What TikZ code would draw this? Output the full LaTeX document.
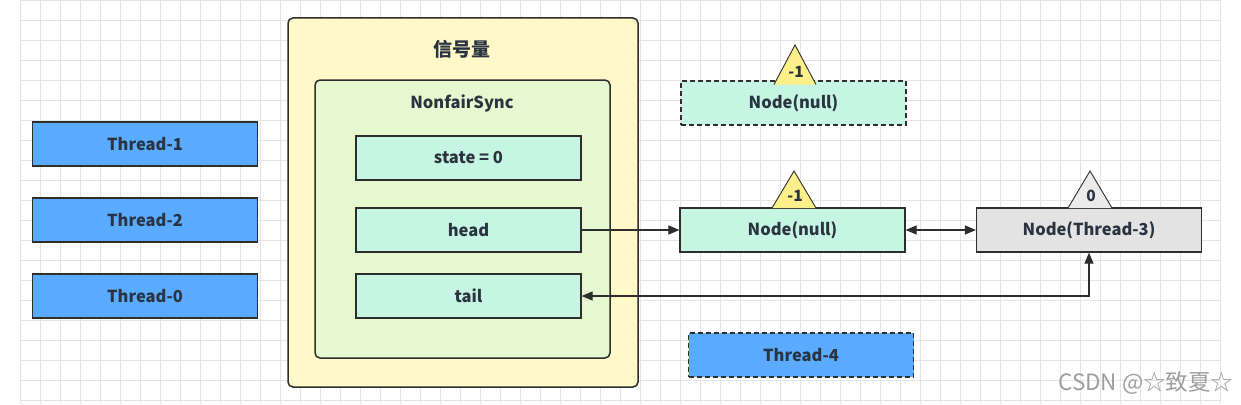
\documentclass[tikz,border=0pt]{standalone}
\usepackage{fontspec}
\setmainfont{Noto Sans CJK SC}
\newfontfamily\cjk{Noto Sans CJK SC}
\usetikzlibrary{arrows.meta}
\definecolor{bord}{HTML}{2E2E2E}
\definecolor{yel}{HTML}{FFF9C9}
\definecolor{grn}{HTML}{E5F8CF}
\definecolor{mint}{HTML}{C6F5E3}
\definecolor{blu}{HTML}{5AABFF}
\definecolor{gry}{HTML}{E3E3E3}
\definecolor{tri}{HTML}{FDF08A}
\definecolor{txt}{HTML}{2A3440}
\tikzset{
  box/.style={draw=bord, line width=1.2pt, minimum width=225pt, minimum height=44pt, inner sep=0pt, font=\bfseries\fontsize{16.5}{16.5}\selectfont, text=txt},
  field/.style={box, fill=mint},
  thr/.style={box, fill=blu},
  gnode/.style={box, fill=gry},
  ghost/.style={dashed, dash pattern=on 5pt off 3pt},
  conn/.style={draw=bord, line width=1.1pt},
  tip/.style={-{Triangle[length=11pt,width=9pt]}},
  tripath/.style={draw=bord, line width=0.9pt},
  trilabel/.style={font=\bfseries\fontsize{15.5}{15.5}\selectfont, text=txt, inner sep=0pt},
}
\begin{document}
\begin{tikzpicture}[x=1pt,y=-1pt]
\useasboundingbox (0,0) rectangle (1241,404);
\fill[white] (0,0) rectangle (1241,404);
% grid
\foreach \x in {20,40,...,1220} \draw[black!10, line width=0.7pt] (\x,0) -- (\x,404);
\foreach \y in {0,20,...,400} \draw[black!10, line width=0.7pt] (20,\y) -- (1220,\y);

% outer containers
\draw[bord, line width=1.5pt, fill=yel, rounded corners=5pt] (288,18) rectangle (638,387);
\node[font=\bfseries\fontsize{19}{19}\selectfont, text=txt] (sem) at (462,49) {信号量};
\draw[bord, line width=1.5pt, fill=grn, rounded corners=5pt] (315,80) rectangle (610,358);
\node[font=\bfseries\fontsize{16.5}{16.5}\selectfont, text=txt] (sync) at (462,103) {NonfairSync};

% fields
\node[field] (state) at (468.5,158) {state = 0};
\node[field] (head) at (468.5,230) {head};
\node[field] (tail) at (468.5,296) {tail};

% threads
\node[thr] (t1) at (145,144) {Thread-1};
\node[thr] (t2) at (145,220) {Thread-2};
\node[thr] (t0) at (145,296) {Thread-0};
\node[thr, ghost] (t4) at (801,355) {Thread-4};

% nodes
\node[field, ghost] (nold) at (793.5,103) {Node(null)};
\node[field] (nnull) at (792.5,230) {Node(null)};
\node[gnode] (n3) at (1089,230) {Node(Thread-3)};

% triangles
\draw[tripath, fill=tri] (774,84.5) -- (795,45) -- (816,84.5);
\node[trilabel] (w0) at (796,72) {-1};
\draw[tripath, fill=tri] (772,208) -- (794,171) -- (816,208);
\node[trilabel] (w1) at (795,196) {-1};
\draw[tripath, fill=gry!70!white] (1068,208) -- (1090,171) -- (1112,208);
\node[trilabel] (w2) at (1091,196) {0};

% connectors
\draw[conn, tip] (head.east) -- (nnull.west);
\draw[conn, {Triangle[length=11pt,width=9pt]}-{Triangle[length=11pt,width=9pt]}] (nnull.east) -- (n3.west);
\coordinate (bend) at (n3.south |- tail.east);
\draw[conn, {Triangle[length=11pt,width=9pt]}-{Triangle[length=11pt,width=9pt]}] (tail.east) -- (bend) -- (n3.south);

% watermark
\node[font=\fontsize{22.5}{22.5}\selectfont, text=black!38, anchor=east] (wm) at (1237,383) {CSDN @☆致夏☆};
\end{tikzpicture}
\end{document}
